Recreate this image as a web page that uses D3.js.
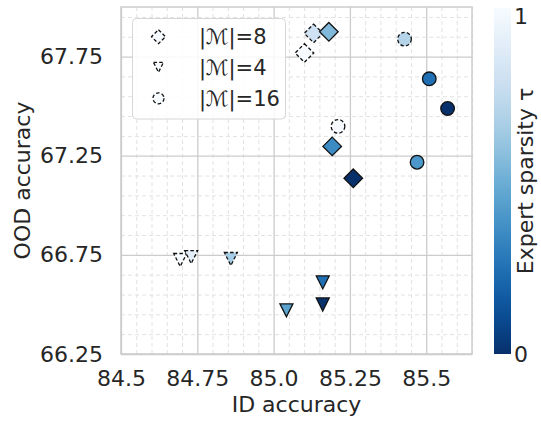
<!DOCTYPE html>
<html>
<head>
<meta charset="utf-8">
<script src="https://cdn.jsdelivr.net/npm/d3@7"></script>
<style>
  html, body { margin: 0; padding: 0; background: #ffffff; }
  svg { display: block; font-family: "DejaVu Sans", sans-serif; }
</style>
</head>
<body>
<svg id="chart" width="541" height="421"></svg>
<script>
// ---- data ----
const diamondX = [85.131, 85.181, 85.101, 85.192, 85.261];
const diamondY = [67.867, 67.875, 67.768, 67.297, 67.136];
const diamondTau = [0.8, 0.55, 1.0, 0.35, 0.0];

const triX = [84.694, 84.730, 84.860, 85.042, 85.161, 85.161];
const triY = [66.724, 66.739, 66.729, 66.470, 66.611, 66.500];
const triTau = [1.0, 0.9, 0.65, 0.45, 0.24, 0.0];

const circX = [85.429, 85.510, 85.570, 85.211, 85.470];
const circY = [67.838, 67.638, 67.488, 67.398, 67.217];
const circTau = [0.7, 0.24, 0.0, 1.0, 0.4];

const xTicks = [84.5, 84.75, 85.0, 85.25, 85.5];
const xTickLabels = ["84.5", "84.75", "85.0", "85.25", "85.5"];
const yTicks = [66.25, 66.75, 67.25, 67.75];
const yTickLabels = ["66.25", "66.75", "67.25", "67.75"];
const legendLabels = ["|ℳ|=8", "|ℳ|=4", "|ℳ|=16"];
const cbTicks = [0, 1];
const cbTickLabels = ["0", "1"];

// ---- layout ----
const L = 121, R = 472, T = 7, B = 354;
const svg = d3.select("#chart");
const txt = "#262626";
const gridCol = "#cccccc";

const x = d3.scaleLinear().domain([84.5, 85.65]).range([L, R]);
const y = d3.scaleLinear().domain([66.25, 68.0]).range([B, T]);
const color = t => d3.interpolateBlues(1 - t);

// minor grid
const xMinor = d3.range(84.55, 85.65, 0.05).filter(v => Math.abs(v / 0.25 - Math.round(v / 0.25)) > 1e-6);
const yMinor = d3.range(66.35, 68.0, 0.1).filter(v => Math.abs((v - 66.25) / 0.5 - Math.round((v - 66.25) / 0.5)) > 1e-6);

svg.append("g").attr("transform", `translate(0,${B})`)
  .call(d3.axisBottom(x).tickValues(xMinor).tickSize(-(B - T)).tickFormat(""))
  .call(g => g.select(".domain").remove())
  .call(g => g.selectAll("line").attr("stroke", "#e2e2e2").attr("stroke-width", 1).attr("stroke-dasharray", "4,3"));
svg.append("g").attr("transform", `translate(${L},0)`)
  .call(d3.axisLeft(y).tickValues(yMinor).tickSize(-(R - L)).tickFormat(""))
  .call(g => g.select(".domain").remove())
  .call(g => g.selectAll("line").attr("stroke", "#e2e2e2").attr("stroke-width", 1).attr("stroke-dasharray", "4,3"));

// major grid
svg.append("g").attr("transform", `translate(0,${B})`)
  .call(d3.axisBottom(x).tickValues(xTicks).tickSize(-(B - T)).tickFormat(""))
  .call(g => g.select(".domain").remove())
  .call(g => g.selectAll("line").attr("stroke", gridCol).attr("stroke-width", 1.3));
svg.append("g").attr("transform", `translate(${L},0)`)
  .call(d3.axisLeft(y).tickValues(yTicks).tickSize(-(R - L)).tickFormat(""))
  .call(g => g.select(".domain").remove())
  .call(g => g.selectAll("line").attr("stroke", gridCol).attr("stroke-width", 1.3));

// frame
svg.append("rect").attr("x", L).attr("y", T).attr("width", R - L).attr("height", B - T)
  .attr("fill", "none").attr("stroke", gridCol).attr("stroke-width", 1.5);

// tick labels
svg.append("g").attr("transform", `translate(0,${B})`)
  .call(d3.axisBottom(x).tickValues(xTicks).tickSize(0).tickPadding(16)
    .tickFormat((d, i) => xTickLabels[i]))
  .call(g => g.select(".domain").remove())
  .call(g => g.selectAll("text").attr("fill", txt).style("font-size", "22px").style("font-family", "DejaVu Sans"));
svg.append("g").attr("transform", `translate(${L},0)`)
  .call(d3.axisLeft(y).tickValues(yTicks).tickSize(0).tickPadding(18)
    .tickFormat((d, i) => yTickLabels[i]))
  .call(g => g.select(".domain").remove())
  .call(g => g.selectAll("text").attr("fill", txt).style("font-size", "22px").style("font-family", "DejaVu Sans"));

// axis titles
svg.append("text").attr("x", (L + R) / 2).attr("y", 412).attr("text-anchor", "middle")
  .attr("fill", txt).style("font-size", "22px").text("ID accuracy");
svg.append("text").attr("transform", `translate(30,${(T + B) / 2}) rotate(-90)`).attr("text-anchor", "middle")
  .attr("fill", txt).style("font-size", "22px").text("OOD accuracy");

// marker paths
const diamondPath = r => `M0,${-r}L${r},0L0,${r}L${-r},0Z`;
const triPath = h => `M${-h},${-h}L${h},${-h}L0,${h}Z`;
const circPath = r => d3.path().arc ? (() => { const p = d3.path(); p.moveTo(r, 0); p.arc(0, 0, r, 0, 2 * Math.PI); p.closePath(); return p.toString(); })() : "";

function drawSeries(xs, ys, taus, pathStr) {
  const pts = xs.map((v, i) => ({ x: v, y: ys[i], t: taus[i] }));
  svg.append("g").selectAll("path").data(pts).join("path")
    .attr("d", pathStr)
    .attr("transform", d => `translate(${x(d.x)},${y(d.y)})`)
    .attr("fill", d => color(d.t))
    .attr("stroke", "#111")
    .attr("stroke-width", 1.3)
    .attr("stroke-dasharray", d => d.t >= 0.6 ? "3.5,2.2" : null);
}
drawSeries(diamondX, diamondY, diamondTau, diamondPath(9.3));
drawSeries(triX, triY, triTau, triPath(6.5));
drawSeries(circX, circY, circTau, circPath(6.8));

// legend
const lg = svg.append("g");
lg.append("rect").attr("x", 132.5).attr("y", 18.5).attr("width", 153).attr("height", 100.5)
  .attr("rx", 4).attr("fill", "#ffffff").attr("fill-opacity", 0.85)
  .attr("stroke", "#d6d6d6").attr("stroke-width", 1);
const legPaths = [diamondPath(7), triPath(5), circPath(5.5)];
const legY = [36.7, 67.3, 98.3];
legendLabels.forEach((lab, i) => {
  lg.append("path").attr("d", legPaths[i]).attr("transform", `translate(158.5,${legY[i]})`)
    .attr("fill", color(1)).attr("stroke", "#111").attr("stroke-width", 1.3).attr("stroke-dasharray", "3.5,2.2");
  lg.append("text").attr("x", 199).attr("y", legY[i] + 7.5).attr("fill", txt)
    .style("font-size", "21px").text(lab);
});

// colorbar
const cbX = 494, cbW = 17, cbT = 8, cbB = 354;
const defs = svg.append("defs");
const grad = defs.append("linearGradient").attr("id", "cbgrad").attr("x1", 0).attr("y1", 1).attr("x2", 0).attr("y2", 0);
d3.range(0, 1.0001, 0.05).forEach(t => {
  grad.append("stop").attr("offset", t).attr("stop-color", color(t));
});
svg.append("rect").attr("x", cbX).attr("y", cbT).attr("width", cbW).attr("height", cbB - cbT).attr("fill", "url(#cbgrad)");
const cbScale = d3.scaleLinear().domain([0, 1]).range([cbB, cbT]);
svg.append("text").attr("x", cbX + cbW + 3).attr("y", cbScale(1) + 16).attr("fill", txt)
  .style("font-size", "22px").text(cbTickLabels[1]);
svg.append("text").attr("x", cbX + cbW + 3).attr("y", cbScale(0) + 7.5).attr("fill", txt)
  .style("font-size", "22px").text(cbTickLabels[0]);
svg.append("text").attr("transform", `translate(533,${(cbT + cbB) / 2}) rotate(-90)`).attr("text-anchor", "middle")
  .attr("fill", txt).style("font-size", "22px").text("Expert sparsity τ");
</script>
</body>
</html>
